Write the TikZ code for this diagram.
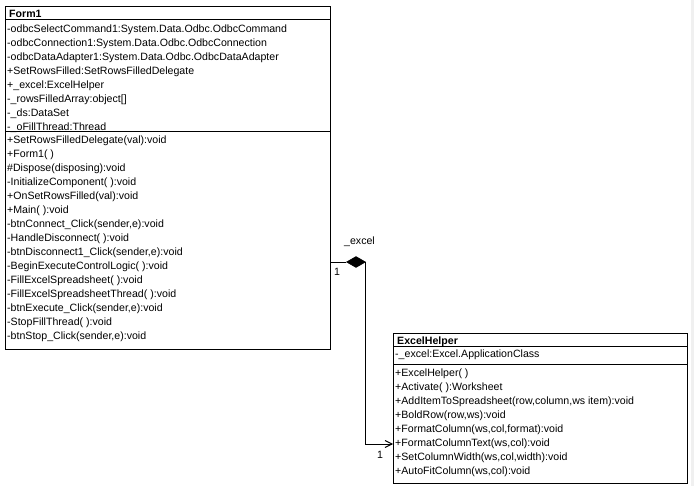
\documentclass[tikz,border=0pt]{standalone}
\usepackage{fontspec}
\setmainfont{Liberation Sans}
\usetikzlibrary{shapes.geometric,arrows.meta}
\begin{document}
\begin{tikzpicture}[x=1bp,y=-1bp,
  box/.style={draw=black,line width=1bp,anchor=north west,inner sep=0,outer sep=0},
  rule/.style={draw=black,line width=1bp},
  txt/.style={anchor=base west,inner sep=0,font=\fontsize{10.6bp}{12bp}\selectfont},
  ttl/.style={txt,font=\fontsize{10.6bp}{12bp}\selectfont\bfseries},
  lbl/.style={inner sep=0,font=\fontsize{10.6bp}{12bp}\selectfont},
  comp/.style={diamond,draw=black,fill=black,line width=0.6bp,minimum width=19bp,minimum height=11bp,inner sep=0},
  conn/.style={draw=black,line width=1bp},
  tip/.style={-{Straight Barb[length=7bp,width=7bp,line width=0.9bp]}}]
\useasboundingbox (0,0) rectangle (694,486);
\fill[white] (0,0) rectangle (694,486);
\fill[black!6] (690.5,0) rectangle (694,486);
% Form1
\node[box,minimum width=325bp,minimum height=342bp] (form1) at (5,7) {};
\draw[rule] (5,20) -- (330,20);
\draw[rule] (5,132) -- (330,132);
\node[ttl] (f1title) at (9,18) {Form1};
\foreach \t [count=\i] in {%
  {-odbcSelectCommand1:System.Data.Odbc.OdbcCommand},
  {-odbcConnection1:System.Data.Odbc.OdbcConnection},
  {-odbcDataAdapter1:System.Data.Odbc.OdbcDataAdapter},
  {+SetRowsFilled:SetRowsFilledDelegate},
  {+\_excel:ExcelHelper},
  {-\_rowsFilledArray:object[]},
  {-\_ds:DataSet},
  {-\_oFillThread:Thread}}
  \node[txt] (fa\i) at (7,{33+13.93*(\i-1)}) {\t};
\foreach \t [count=\i] in {%
  {+SetRowsFilledDelegate(val):void},
  {+Form1( )},
  {\#Dispose(disposing):void},
  {-InitializeComponent( ):void},
  {+OnSetRowsFilled(val):void},
  {+Main( ):void},
  {-btnConnect\_Click(sender,e):void},
  {-HandleDisconnect( ):void},
  {-btnDisconnect1\_Click(sender,e):void},
  {-BeginExecuteControlLogic( ):void},
  {-FillExcelSpreadsheet( ):void},
  {-FillExcelSpreadsheetThread( ):void},
  {-btnExecute\_Click(sender,e):void},
  {-StopFillThread( ):void},
  {-btnStop\_Click(sender,e):void}}
  \node[txt] (fo\i) at (7,{144+13.93*(\i-1)}) {\t};
% ExcelHelper
\node[box,minimum width=294bp,minimum height=150bp] (helper) at (393,333) {};
\draw[rule] (393,346) -- (687,346);
\draw[rule] (393,364) -- (687,364);
\node[ttl] (ehtitle) at (397,344) {ExcelHelper};
\node[txt] (ea1) at (395,357) {-\_excel:Excel.ApplicationClass};
\foreach \t [count=\i] in {%
  {+ExcelHelper( )},
  {+Activate( ):Worksheet},
  {+AddItemToSpreadsheet(row,column,ws item):void},
  {+BoldRow(row,ws):void},
  {+FormatColumn(ws,col,format):void},
  {+FormatColumnText(ws,col):void},
  {+SetColumnWidth(ws,col,width):void},
  {+AutoFitColumn(ws,col):void}}
  \node[txt] (eo\i) at (395,{376+14*(\i-1)}) {\t};
% association
\node[comp] (dia) at (356,262) {};
\coordinate (endpt) at (393,444);
\draw[conn] (form1.east |- dia.west) -- (dia.west);
\draw[conn,tip] (dia.east) |- (endpt);
\node[lbl,anchor=base west] (rolelbl) at (344,245) {\_excel};
\node[lbl,anchor=base west] (m1) at (334,276) {1};
\node[lbl,anchor=base west] (m2) at (377,458) {1};
\end{tikzpicture}
\end{document}
